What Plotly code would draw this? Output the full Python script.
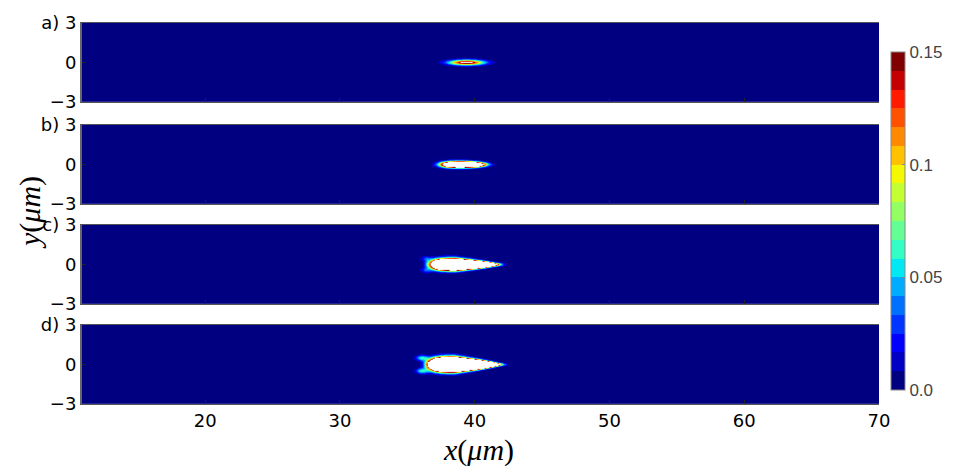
import numpy as np
import plotly.graph_objects as go

# ---- data ----
PANEL_LABELS = ["a)", "b)", "c)", "d)"]
X_TICKS = [20, 30, 40, 50, 60, 70]
Y_TICKS = [-3, 0, 3]
CBAR_TICKS = [0.0, 0.05, 0.1, 0.15]
CBAR_LABELS = ["0.0", "0.05", "0.1", "0.15"]

# blob description per panel (a, b, c, d)
PEAK = [0.17, 0.5, 1.0, 1.5]
CENTER_X = [39.4, 39.15, 39.0, 39.0]
LEFT_LEN = [1.23, 1.46, 1.96, 2.03]
RIGHT_LEN = [1.23, 1.46, 2.3, 2.35]
SHARPNESS = [2, 3, 4, 4]
HALF_WIDTH_MAX = [0.2, 0.21, 0.33, 0.39]
X_WIDTH_MAX = [39.4, 39.0, 38.6, 38.5]
HALF_WIDTH_TIP = [0.2, 0.17, 0.13, 0.12]
X_TIP = [39.5, 40.8, 41.5, 41.8]
LOBE_PEAK = [0.0, 0.0, 0.03, 0.06]
LOBE_X = [39.4, 39.15, 36.4, 36.1]
LOBE_Y = [0.0, 0.0, 0.45, 0.5]
LOBE_SX = [0.4, 0.4, 0.4, 0.45]
LOBE_SY = [0.2, 0.2, 0.2, 0.2]

Z_MAX = 0.15
N_LEVELS = 18
X_RANGE = [10.86, 70]


def jet(v):
    r = np.interp(v, [0, 0.35, 0.66, 0.89, 1], [0, 0, 1, 1, 0.5])
    g = np.interp(v, [0, 0.125, 0.375, 0.64, 0.91, 1], [0, 0, 1, 1, 0, 0])
    b = np.interp(v, [0, 0.11, 0.34, 0.65, 1], [0.5, 1, 1, 0, 0])
    return "rgb(%d,%d,%d)" % (round(r * 255), round(g * 255), round(b * 255))


colorscale = []
for i in range(N_LEVELS):
    c = jet(i / (N_LEVELS - 1))
    colorscale.append([i / N_LEVELS, c])
    colorscale.append([(i + 1) / N_LEVELS, c])

xg = np.concatenate([np.linspace(X_RANGE[0] - 0.5, 34, 24, endpoint=False),
                     np.arange(34, 44, 0.04),
                     np.linspace(44, X_RANGE[1] + 0.5, 28)])
yg = np.linspace(-3, 3, 241)
X, Y = np.meshgrid(xg, yg)


def field(k):
    dx = X - CENTER_X[k]
    L = np.where(dx < 0, LEFT_LEN[k], RIGHT_LEN[k])
    fx = np.exp(-np.abs(dx / L) ** SHARPNESS[k])
    t = np.clip((X - X_WIDTH_MAX[k]) / max(X_TIP[k] - X_WIDTH_MAX[k], 1e-6), 0, 1)
    w = HALF_WIDTH_MAX[k] + (HALF_WIDTH_TIP[k] - HALF_WIDTH_MAX[k]) * t
    z = PEAK[k] * fx * np.exp(-(Y / w) ** 2)
    for s in (1, -1):
        z = z + LOBE_PEAK[k] * np.exp(-((X - LOBE_X[k]) / LOBE_SX[k]) ** 2
                                      - ((Y - s * LOBE_Y[k]) / LOBE_SY[k]) ** 2)
    z = np.where(z > Z_MAX, np.nan, z)
    return z


W, H = 958, 474
OFF = 8  # page body margin of the html page


def px(xp):
    return (xp - OFF) / W


def py(yp):
    return 1 - (yp - OFF) / H


x_dom = [px(82), px(879)]
panels_px = [(23, 102), (125, 204), (225, 304), (325, 404)]

fig = go.Figure()
tick_font = dict(family="DejaVu Sans", size=18, color="black")

for k in range(4):
    xa = "x" if k == 0 else "x%d" % (k + 1)
    ya = "y" if k == 0 else "y%d" % (k + 1)
    fig.add_trace(go.Heatmap(
        x=xg, y=yg, z=field(k), xaxis=xa, yaxis=ya,
        colorscale=colorscale, zmin=0, zmax=Z_MAX, zsmooth=False,
        showscale=(k == 0), hoverinfo="skip",
        colorbar=dict(
            x=px(891), xanchor="left", xpad=0, y=py(221), yanchor="middle",
            ypad=0, len=338 / H, lenmode="fraction", thickness=14,
            outlinecolor="#888", outlinewidth=1,
            tickvals=CBAR_TICKS, ticktext=CBAR_LABELS,
            ticks="inside", ticklen=3, tickcolor="#888",
            tickfont=dict(family="Liberation Sans", size=17, color="#444"),
        ),
    ))
    top, bot = panels_px[k]
    xkey = "xaxis" if k == 0 else "xaxis%d" % (k + 1)
    ykey = "yaxis" if k == 0 else "yaxis%d" % (k + 1)
    fig.layout[xkey] = dict(
        domain=x_dom, anchor=ya, range=X_RANGE, tickvals=X_TICKS,
        showticklabels=(k == 3), tickfont=tick_font, ticks="inside", ticklen=4,
        tickcolor="#222", showline=True, mirror=True, linecolor="#555",
        linewidth=1, showgrid=False, zeroline=False, automargin=False,
    )
    fig.layout[ykey] = dict(
        domain=[py(bot), py(top)], anchor=xa, range=[-3, 3],
        tickvals=Y_TICKS, ticktext=["\u22123", "0", PANEL_LABELS[k] + " 3"],
        tickfont=tick_font, ticks="inside", ticklen=4, tickcolor="#222",
        showline=True, linecolor="#666", linewidth=2, showgrid=False,
        zeroline=False, automargin=False,
    )

fig.add_annotation(text="<i>x</i>(<i>\u03bcm</i>)", x=px(478), y=py(450),
                   xref="paper", yref="paper", showarrow=False,
                   xanchor="center", yanchor="middle",
                   font=dict(family="Liberation Serif", size=30, color="black"))
fig.add_annotation(text="<i>y</i>(<i>\u03bcm</i>)", x=px(30), y=py(213),
                   xref="paper", yref="paper", showarrow=False, textangle=-90,
                   xanchor="center", yanchor="middle",
                   font=dict(family="Liberation Serif", size=30, color="black"))

fig.update_layout(width=W, height=H, margin=dict(l=0, r=0, t=0, b=0),
                  paper_bgcolor="white", plot_bgcolor="white", showlegend=False)
fig.write_html("out.html")
